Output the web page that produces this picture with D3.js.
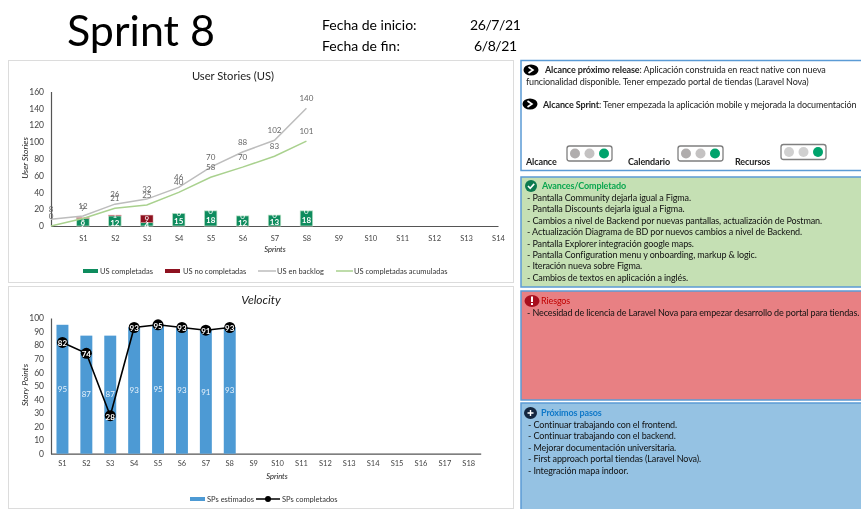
<!DOCTYPE html>
<html><head><meta charset="utf-8">
<script src="https://cdn.jsdelivr.net/npm/d3@7/dist/d3.min.js"></script>
<style>
html,body{margin:0;padding:0;background:#fff;overflow:hidden}
svg{display:block;font-family:Lato,"Open Sans",sans-serif;filter:blur(0.35px)}
</style></head><body><svg id="c" width="861" height="509"></svg>
<script>
const usSprints=["S1","S2","S3","S4","S5","S6","S7","S8","S9","S10","S11","S12","S13","S14"];
const usOrigin=[""];
const usCompleted=[9,12,4,15,18,12,13,18];
const usNotCompleted=[1,1,9,0,0,0,0,0];
const usBacklog=[8,12,26,32,46,70,88,102,140];
const usAccumulated=[0,9,21,25,40,58,70,83,101];
const spSprints=["S1","S2","S3","S4","S5","S6","S7","S8","S9","S10","S11","S12","S13","S14","S15","S16","S17","S18"];
const spEstimated=[95,87,87,93,95,93,91,93];
const spCompleted=[82,74,28,93,95,93,91,93];
const usLegend=["US completadas","US no completadas","US en backlog","US completadas acumuladas"];
const spLegend=["SPs estimados","SPs completados"];
const doneLines=["- Pantalla Community dejarla igual a Figma.","- Pantalla Discounts dejarla igual a Figma.","- Cambios a nivel de Backend por nuevas pantallas, actualización de Postman.","- Actualización Diagrama de BD por nuevos cambios a nivel de Backend.","- Pantalla Explorer integración google maps.","- Pantalla Configuration menu y onboarding, markup & logic.","- Iteración nueva sobre Figma.","- Cambios de textos en aplicación a inglés."];
const riskLines=["- Necesidad de licencia de Laravel Nova para empezar desarrollo de portal para tiendas."];
const nextLines=["- Continuar trabajando con el frontend.","- Continuar trabajando con el backend.","- Mejorar documentación universitaria.","- First approach portal tiendas (Laravel Nova).","- Integración mapa indoor."];
const lights=[{label:"Alcance",on:"#00a36c"},{label:"Calendario",on:"#00a36c"},{label:"Recursos",on:"#00a36c"}];

const svg=d3.select("#c");
const txt=(x,y,s,o={})=>svg.append("text").attr("x",x).attr("y",y).attr("dy","0.35em")
  .attr("font-size",o.size||9).attr("fill",o.fill||"#222").attr("font-weight",o.weight||null)
  .attr("font-style",o.style||null).attr("letter-spacing",o.ls||null).attr("text-anchor",o.anchor||"start").text(s);

// header
txt(67,31,"Sprint 8",{size:43,fill:"#000"});
txt(322,25,"Fecha de inicio:",{size:14,fill:"#000"});
txt(470,25,"26/7/21",{size:14,fill:"#000",ls:-0.4});
txt(322,46,"Fecha de fin:",{size:14,fill:"#000"});
txt(474,46,"6/8/21",{size:14,fill:"#000",ls:-0.4});

// chart frames
[[8.5,60.5,505,222],[8.5,286.5,505,222]].forEach(r=>svg.append("rect").attr("x",r[0]).attr("y",r[1]).attr("width",r[2]).attr("height",r[3]).attr("fill","#fff").attr("stroke","#dcdcdc"));

// --- User stories
const x1=d3.scalePoint().domain(usOrigin.concat(usSprints)).range([51,498]);
const y1=d3.scaleLinear().domain([0,160]).range([226,91.5]);
const g1=svg.append("g");
const axis=(sel)=>{sel.select(".domain").attr("stroke","#555").attr("stroke-width",1.2);sel.selectAll("text").attr("fill","#444").attr("font-family","Lato,sans-serif");};
g1.append("g").attr("transform","translate(51,0)").call(d3.axisLeft(y1).tickValues(d3.range(0,161,20)).tickSize(0).tickPadding(7)).call(axis).selectAll("text").attr("font-size",8.5);
g1.append("g").attr("transform","translate(0,226)").call(d3.axisBottom(x1).tickSize(0).tickPadding(10)).call(axis).selectAll("text").attr("font-size",7.5);
const bw1=12.5;
const stack=usCompleted.map((c,i)=>({s:usSprints[i],c,n:usNotCompleted[i]}));
g1.selectAll(".bc").data(stack).join("rect").attr("x",d=>x1(d.s)-bw1/2).attr("width",bw1).attr("y",d=>y1(d.c)).attr("height",d=>y1(0)-y1(d.c)).attr("fill","#0e8c5e").attr("stroke","#bfe3c8").attr("stroke-width",.7);
g1.selectAll(".bn").data(stack).join("rect").attr("x",d=>x1(d.s)-bw1/2).attr("width",bw1).attr("y",d=>y1(d.c+d.n)).attr("height",d=>y1(d.c)-y1(d.c+d.n)).attr("fill","#8e1220").attr("stroke","#e3b3b3").attr("stroke-width",.5);
g1.selectAll(".lc").data(stack).join("text").attr("x",d=>x1(d.s)).attr("y",d=>y1(d.c/2)+ (d.c<6?1:2)).attr("dy","0.35em").attr("text-anchor","middle").attr("font-size",8).attr("font-weight","bold").attr("fill","#fff").text(d=>d.c);
g1.selectAll(".ln").data(stack).join("text").attr("x",d=>x1(d.s)).attr("y",d=>y1(d.c+d.n/2)).attr("dy","0.35em").attr("text-anchor","middle").attr("font-size",8).attr("fill","#fff").text(d=>d.n);
const cats1=usOrigin.concat(usSprints);
const line1=d3.line().x((d,i)=>x1(cats1[i])).y(d=>y1(d));
[[usBacklog,"#bdbdbd"],[usAccumulated,"#a9d18e"]].forEach(([v,c])=>{
  g1.append("path").datum(v).attr("fill","none").attr("stroke",c).attr("stroke-width",1.5).attr("d",line1);
  g1.selectAll(null).data(v).join("text").attr("x",(d,i)=>x1(cats1[i])).attr("y",d=>y1(d)-10).attr("dy","0.35em").attr("text-anchor","middle").attr("font-size",8).attr("fill","#666").text(d=>d);
});
txt(233,76,"User Stories (US)",{size:11.2,anchor:"middle"});
txt(275,249,"Sprints",{size:7.5,style:"italic",anchor:"middle"});
svg.append("text").attr("transform","translate(25,158) rotate(-90)").attr("dy","0.35em").attr("text-anchor","middle").attr("font-size",8.5).attr("font-style","italic").attr("fill","#222").text("User Stories");
// legend 1
const ly=271;
svg.append("rect").attr("x",83).attr("y",ly-2).attr("width",15).attr("height",4).attr("fill","#0e8c5e");
txt(100,ly,usLegend[0],{size:7.5,fill:"#333"});
svg.append("rect").attr("x",165).attr("y",ly-2).attr("width",15).attr("height",4).attr("fill","#8e1220");
txt(183,ly,usLegend[1],{size:7.5,fill:"#333"});
svg.append("line").attr("x1",258).attr("x2",276).attr("y1",ly).attr("y2",ly).attr("stroke","#bdbdbd").attr("stroke-width",1.5);
txt(277,ly,usLegend[2],{size:7.5,fill:"#333"});
svg.append("line").attr("x1",336).attr("x2",353).attr("y1",ly).attr("y2",ly).attr("stroke","#a9d18e").attr("stroke-width",1.5);
txt(354,ly,usLegend[3],{size:7.5,fill:"#333"});

// --- Velocity
const x2=d3.scaleBand().domain(spSprints).range([50.5,480.7]).paddingInner(.5).paddingOuter(.25);
const y2=d3.scaleLinear().domain([0,100]).range([453.7,318]);
const g2=svg.append("g");
g2.append("g").attr("transform","translate(51,0)").call(d3.axisLeft(y2).tickValues(d3.range(0,101,10)).tickSize(0).tickPadding(7)).call(axis).selectAll("text").attr("font-size",8.5);
g2.append("g").attr("transform","translate(0,453.7)").call(d3.axisBottom(x2).tickSize(0).tickPadding(7)).call(axis).selectAll("text").attr("font-size",7.5);
const cx=s=>x2(s)+x2.bandwidth()/2;
g2.selectAll(".b").data(spEstimated).join("rect").attr("x",(d,i)=>x2(spSprints[i])).attr("width",x2.bandwidth()).attr("y",d=>y2(d)).attr("height",d=>y2(0)-y2(d)).attr("fill","#4d9ad4");
g2.selectAll(".bl").data(spEstimated).join("text").attr("x",(d,i)=>cx(spSprints[i])).attr("y",d=>y2(d/2)).attr("dy","0.35em").attr("text-anchor","middle").attr("font-size",8).attr("fill","#e8f2fb").text(d=>d);
const line2=d3.line().x((d,i)=>cx(spSprints[i])).y(d=>y2(d));
g2.append("path").datum(spCompleted).attr("fill","none").attr("stroke","#000").attr("stroke-width",1.6).attr("d",line2);
g2.selectAll(".m").data(spCompleted).join("circle").attr("cx",(d,i)=>cx(spSprints[i])).attr("cy",d=>y2(d)).attr("r",5.5).attr("fill","#000");
g2.selectAll(".ml").data(spCompleted).join("text").attr("x",(d,i)=>cx(spSprints[i])).attr("y",d=>y2(d)+1).attr("dy","0.35em").attr("text-anchor","middle").attr("font-size",8).attr("font-weight","bold").attr("fill","#fff").text(d=>d);
txt(261,300,"Velocity",{size:12,style:"italic",anchor:"middle"});
txt(277,476,"Sprints",{size:7.5,style:"italic",anchor:"middle"});
svg.append("text").attr("transform","translate(25,385) rotate(-90)").attr("dy","0.35em").attr("text-anchor","middle").attr("font-size",8.5).attr("font-style","italic").attr("fill","#222").text("Story Points");
const ly2=499;
svg.append("rect").attr("x",190).attr("y",ly2-2).attr("width",15).attr("height",4).attr("fill","#4d9ad4");
txt(207,ly2,spLegend[0],{size:7.5,fill:"#333"});
svg.append("line").attr("x1",256).attr("x2",280).attr("y1",ly2).attr("y2",ly2).attr("stroke","#000").attr("stroke-width",1.5);
svg.append("circle").attr("cx",268).attr("cy",ly2).attr("r",3).attr("fill","#000");
txt(282,ly2,spLegend[1],{size:7.5,fill:"#333"});

// --- Right panels
const FS=9, LS=-0.12;
const panel=(y,h,f)=>svg.append("rect").attr("x",521).attr("y",y).attr("width",345).attr("height",h).attr("fill",f).attr("stroke","#5b9bd5").attr("stroke-width",1.5);
panel(60.5,110,"#fff");panel(177,110,"#c5e0b4");panel(291,109,"#e88083");panel(403,110,"#95c2e3");

const chevIcon=(cx,cy)=>{svg.append("ellipse").attr("cx",cx).attr("cy",cy).attr("rx",7.5).attr("ry",5.5).attr("fill","#000");
 svg.append("path").attr("d",`M${cx-2.5},${cy-3}L${cx+2},${cy}L${cx-2.5},${cy+3}`).attr("fill","none").attr("stroke","#fff").attr("stroke-width",1.6);};
const rich=(x,y,b,r)=>{const t=svg.append("text").attr("x",x).attr("y",y).attr("dy","0.35em").attr("font-size",FS).attr("letter-spacing",LS).attr("fill","#222");
 t.append("tspan").attr("font-weight","bold").text(b);t.append("tspan").text(r);};
chevIcon(531,70);
rich(545,70,"Alcance próximo release",": Aplicación construida en react native con nueva");
txt(526,82,"funcionalidad disponible. Tener empezado portal de tiendas (Laravel Nova)",{size:FS,ls:LS});
chevIcon(530,104);
rich(543,105,"Alcance Sprint",": Tener empezada  la aplicación mobile y mejorada la documentación");

const boxes=[[567,146,526],[678,146,628],[781,144.5,735]];
lights.forEach((l,i)=>{const [bx,by,lx]=boxes[i];
 txt(lx,162,l.label,{size:FS,weight:"bold",ls:LS});
 svg.append("rect").attr("x",bx).attr("y",by).attr("width",45).attr("height",15).attr("rx",2.5).attr("fill","#fff").attr("stroke","#7f7f7f").attr("stroke-width",1.3);
 (i==2?["#d0d0d0","#d0d0d0",l.on]:["#b0adad","#c4c2c2",l.on]).forEach((c,j)=>svg.append("circle").attr("cx",bx+8+j*14.5).attr("cy",by+7.5).attr("r",5).attr("fill",c));
});

// green
svg.append("circle").attr("cx",531).attr("cy",186).attr("r",6).attr("fill","#0c7a4e");
svg.append("path").attr("d","M528,186l2.2,2.4l4,-4.5").attr("fill","none").attr("stroke","#fff").attr("stroke-width",1.6);
txt(542,186,"Avances/Completado",{size:FS,weight:"bold",fill:"#0aa64f",ls:LS});
const doneY=[198,209,221,232,244,255,266,278];
doneLines.forEach((s,i)=>txt(527,doneY[i],s,{size:FS,fill:"#111",ls:LS}));
// red
svg.append("ellipse").attr("cx",532).attr("cy",301).attr("rx",7.5).attr("ry",6).attr("fill","#a80f1e");
svg.append("rect").attr("x",531).attr("y",296.5).attr("width",2).attr("height",5.5).attr("fill","#fff");
svg.append("rect").attr("x",531).attr("y",303).attr("width",2).attr("height",2).attr("fill","#fff");
txt(541,301,"Riesgos",{size:FS,fill:"#c00000",ls:LS});
riskLines.forEach((s,i)=>txt(527,313+i*11,s,{size:FS,fill:"#111",ls:LS}));
// blue
svg.append("ellipse").attr("cx",530.5).attr("cy",413).attr("rx",6.5).attr("ry",6).attr("fill","#14263f");
svg.append("path").attr("d","M527.5,413h6M530.5,410v6").attr("stroke","#fff").attr("stroke-width",1.4);
txt(541,413,"Próximos pasos",{size:FS,weight:"bold",fill:"#0f78c8",ls:LS});
const nextY=[425,436,448,459,471];
nextLines.forEach((s,i)=>txt(528,nextY[i],s,{size:FS,fill:"#111",ls:LS}));
</script></body></html>
